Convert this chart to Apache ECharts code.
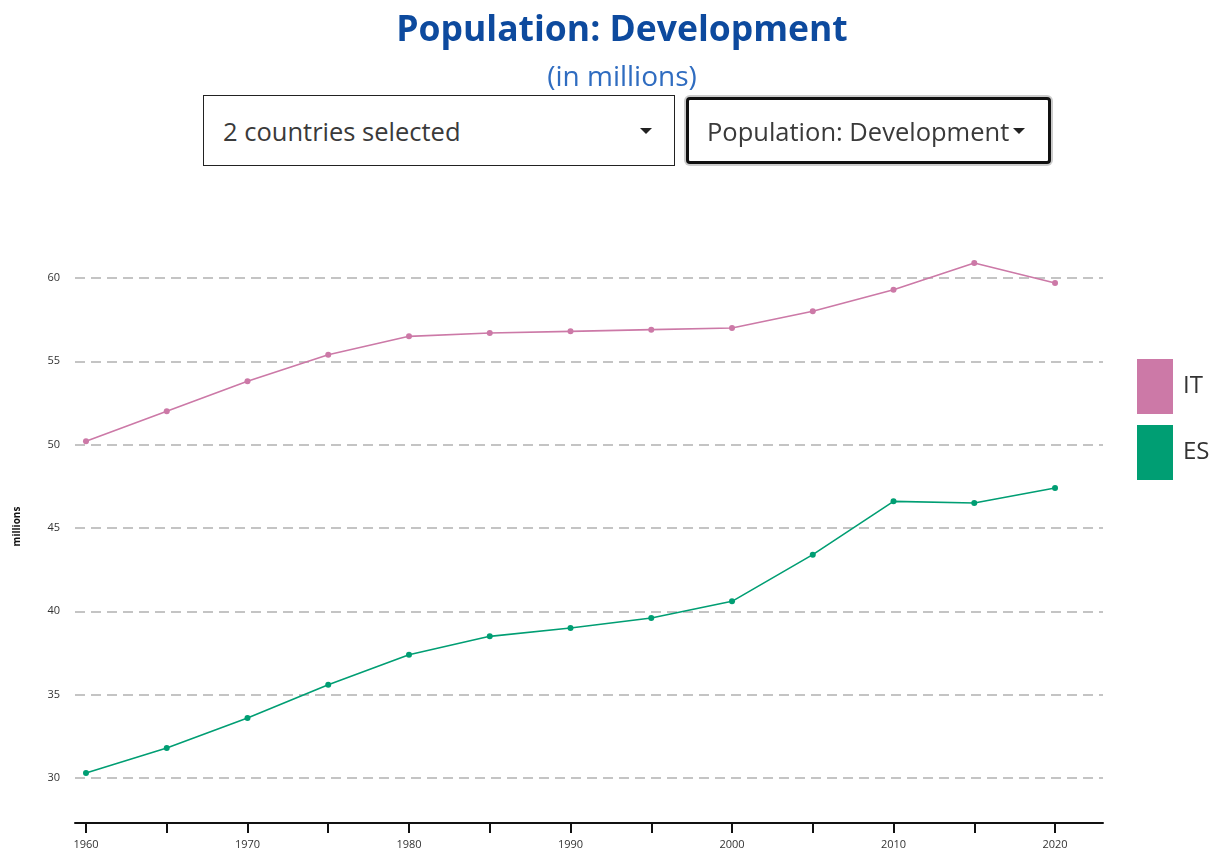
<!DOCTYPE html>
<html>
<head>
<meta charset="utf-8">
<script src="https://cdn.jsdelivr.net/npm/echarts@6/dist/echarts.min.js"></script>
<style>
  body { margin: 0; background: #fff; font-family: "Open Sans", sans-serif; overflow: hidden; }
  #chart { position: absolute; left: 0; top: 0; width: 1244px; height: 854px; }
  .dd { position: absolute; box-sizing: border-box; background: #fff; color: #3a3a3a;
        font-size: 25.5px; display: flex; align-items: center; padding-left: 19px; }
  .dd .caret { position: absolute; top: 50%; margin-top: -3px; width: 0; height: 0;
        border-left: 6px solid transparent; border-right: 6px solid transparent; border-top: 6px solid #222; }
  #dd1 { left: 203px; top: 95px; width: 472px; height: 71px; border: 1px solid #222; }
  #dd1 .caret { right: 22px; }
  #dd2 { left: 686px; top: 97px; width: 365px; height: 67px; border: 3px solid #111; border-radius: 4px;
         box-shadow: 0 0 0 2px #ccc; padding-left: 18px; }
  #dd2 .caret { right: 23px; }
</style>
</head>
<body>
<div id="chart"></div>
<div class="dd" id="dd1">2 countries selected<span class="caret"></span></div>
<div class="dd" id="dd2">Population: Development<span class="caret"></span></div>
<script>
const years = [1960, 1965, 1970, 1975, 1980, 1985, 1990, 1995, 2000, 2005, 2010, 2015, 2020];
const italy = [50.2, 52.0, 53.8, 55.4, 56.5, 56.7, 56.8, 56.9, 57.0, 58.0, 59.3, 60.9, 59.7];
const spain = [30.3, 31.8, 33.6, 35.6, 37.4, 38.5, 39.0, 39.6, 40.6, 43.4, 46.6, 46.5, 47.4];
const yearTicks = [1960, 1965, 1970, 1975, 1980, 1985, 1990, 1995, 2000, 2005, 2010, 2015, 2020];
const yearLabels = [1960, 1970, 1980, 1990, 2000, 2010, 2020];
const valueTicks = [30, 35, 40, 45, 50, 55, 60];

// chart box is 24px wider than the page so the centred title sits where the reference has it
const chart = echarts.init(document.getElementById('chart'));
chart.setOption({
  animation: false,
  title: {
    text: 'Population: Development',
    subtext: '(in millions)',
    left: 'center',
    top: 8,
    itemGap: 15,
    textStyle: { fontFamily: 'Open Sans', fontWeight: 'bold', fontSize: 35.5, color: '#0d4a9e' },
    subtextStyle: { fontFamily: 'Open Sans', fontSize: 28, color: '#2f6cc0' }
  },
  legend: {
    orient: 'vertical',
    left: 1132,
    top: 354,
    itemWidth: 36,
    itemHeight: 55,
    itemGap: 11,
    icon: 'rect',
    textStyle: { fontFamily: 'Open Sans', fontSize: 24, color: '#333', padding: [0, 0, 0, 5] },
    data: ['IT', 'ES']
  },
  grid: { left: 75, right: 141, top: 230, bottom: 31 },
  xAxis: {
    type: 'value',
    min: 1959.32,
    max: 2022.97,
    splitLine: { show: false },
    axisLine: { lineStyle: { color: '#111', width: 2 } },
    axisTick: { customValues: yearTicks, length: 10, lineStyle: { color: '#111', width: 2 } },
    axisLabel: {
      customValues: yearLabels, margin: 16, fontSize: 11, color: '#333', fontFamily: 'Open Sans',
      formatter: v => String(v)
    }
  },
  yAxis: {
    type: 'value',
    min: 27.3,
    max: 62.88,
    name: 'millions',
    nameLocation: 'middle',
    nameRotate: 90,
    nameGap: 53,
    nameTextStyle: { fontSize: 10, fontWeight: 'bold', color: '#111', fontFamily: 'Open Sans' },
    axisLine: { show: false },
    axisTick: { show: false, customValues: valueTicks },
    axisLabel: { customValues: valueTicks, margin: 15, fontSize: 11, color: '#333', fontFamily: 'Open Sans' },
    splitLine: { show: true, lineStyle: { type: [10, 6], color: '#c4c4c4', width: 2 } }
  },
  series: [
    {
      name: 'IT', type: 'line', data: years.map((y, i) => [y, italy[i]]),
      color: '#cc79a7', symbol: 'circle', symbolSize: 6, lineStyle: { width: 1.6 }
    },
    {
      name: 'ES', type: 'line', data: years.map((y, i) => [y, spain[i]]),
      color: '#009e73', symbol: 'circle', symbolSize: 6, lineStyle: { width: 1.6 }
    }
  ]
});
</script>
</body>
</html>
